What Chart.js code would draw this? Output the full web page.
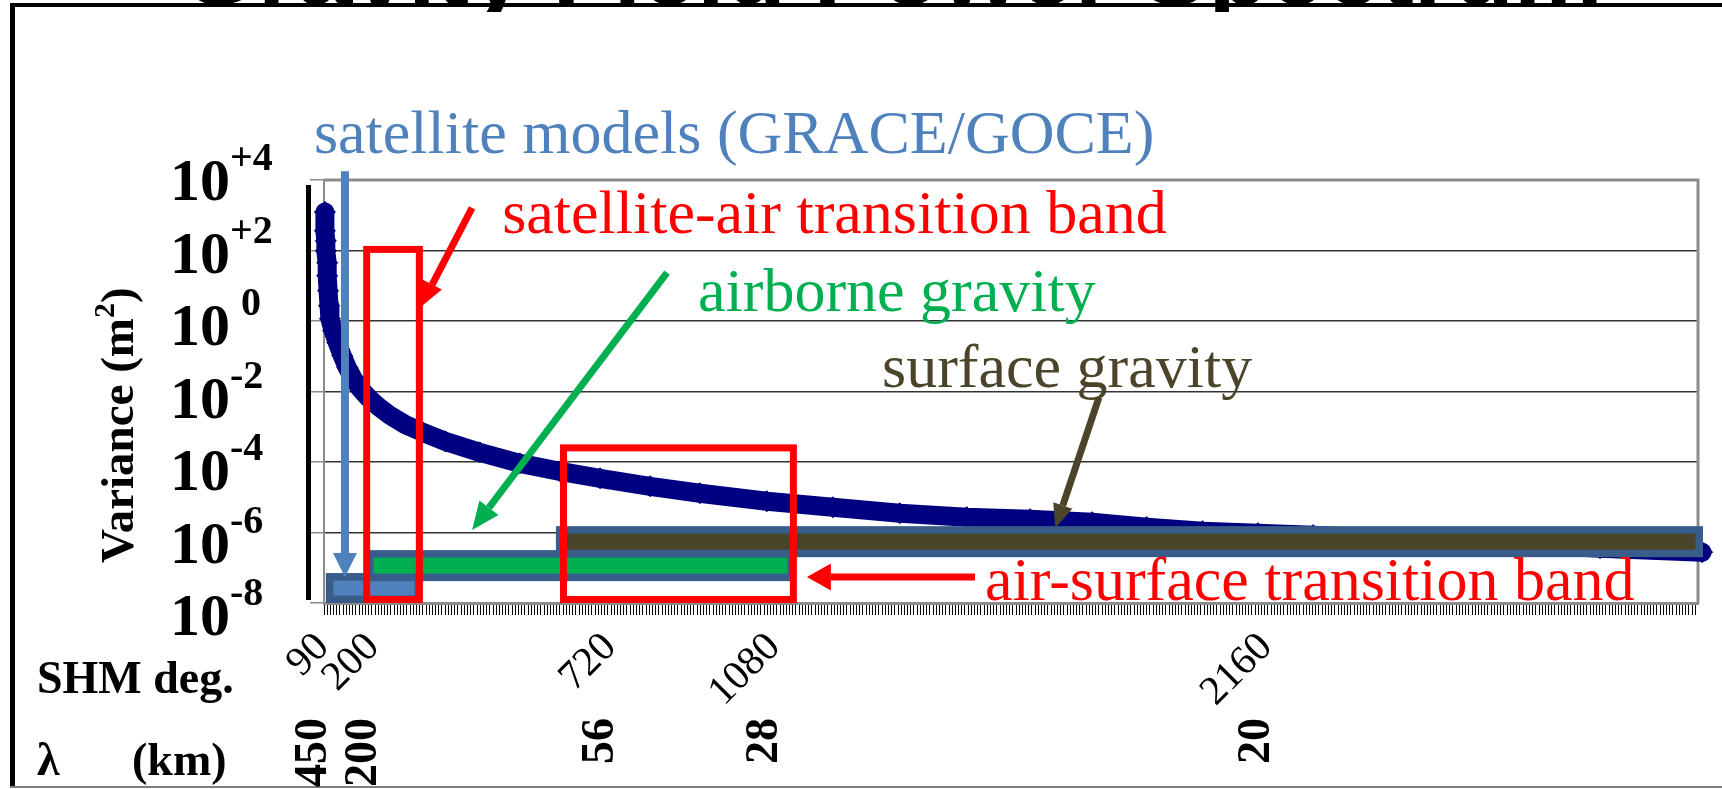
<!DOCTYPE html>
<html>
<head>
<meta charset="utf-8">
<script src="https://cdn.jsdelivr.net/npm/chart.js@4.4.1/dist/chart.umd.min.js"></script>
<style>
  html, body { margin: 0; padding: 0; background: #fff; overflow: hidden; }
  canvas { display: block; }
</style>
</head>
<body>
<canvas id="c" width="1722" height="789"></canvas>
<script>
// Spherical-harmonic degree of each plotted degree-variance point
const shmDegree = [92, 92, 94, 94, 97, 97, 99, 101, 103, 110, 119, 130, 141, 154, 169, 187, 209, 235,
  268, 307, 356, 432, 520, 608, 696, 806, 915, 1062, 1207, 1354, 1501, 1640, 1776, 1896, 2019,
  2140, 2261, 2452, 2671, 2891, 3115];
// Geoid degree variance in m^2
const variance = [1240, 361, 188, 98, 44.8, 19.2, 7.2, 2.7, 1.16, 0.53, 0.244, 0.104, 0.0478, 0.0233,
  0.0122, 6.76e-3, 3.76e-3, 2.09e-3, 1.16e-3, 6.92e-4, 3.85e-4, 1.88e-4, 9.16e-5, 5.44e-5, 3.45e-5,
  2.05e-5, 1.30e-5, 7.7e-6, 5.2e-6, 3.52e-6, 2.72e-6, 2.38e-6, 1.96e-6, 1.42e-6, 1.09e-6, 9.58e-7,
  8.41e-7, 6.48e-7, 4.99e-7, 3.60e-7, 2.77e-7];

// Labelled degrees on the x axis and the matching wavelengths (km)
const degreeLabels = [90, 200, 720, 1080, 2160];
const wavelengthLabels = ['450', '200', '56', '28', '20'];
// Decades labelled on the variance axis (exponents) and how they are written
const decadeExponents = [4, 2, 0, -2, -4, -6, -8];
const decadeText = ['+4', '+2', '0', '-2', '-4', '-6', '-8'];

// Data-source coverage bands: degree span and log10 variance span
const bandDegrees = [[94, 305], [182, 1124], [599, 3117]];
const bandLogVariance = [[-8, -7.15], [-7.38, -6.5], [-6.7, -5.82]];
// Transition windows between data sources
const windowDegrees = [[176, 307], [608, 1128]];
const windowLogVariance = [[-8, 2.13], [-8, -3.5]];

const SERIF = '"Liberation Serif", "Times New Roman", serif';
const NAVY = '#000080';
const STEEL = '#4F81BD';
const OUTLINE = '#385D8A';
const RED = '#FF0000';
const GREEN = '#00B050';
const OLIVE = '#4A452A';

const bandFills = [STEEL, GREEN, OLIVE];

// Annotation callouts, placed in axis units: [degree, log10 variance]
const callouts = [
  { text: 'satellite models (GRACE/GOCE)', color: STEEL, at: [68, 4.76] },
  { text: 'satellite-air transition band', color: RED, at: [481, 2.50] },
  { text: 'airborne gravity', color: GREEN, at: [911, 0.29] },
  { text: 'surface gravity', color: OLIVE, at: [1315, -1.86] },
  { text: 'air-surface transition band', color: RED, at: [1541, -7.92] }
];
const pointers = [
  { color: STEEL, from: [136, 4.25], to: [136, -7.26], w: 8, hl: 24, hw: 24 },
  { color: RED, from: [415, 3.21], to: [301, 0.38], w: 7, hl: 26, hw: 22 },
  { color: GREEN, from: [843, 1.37], to: [415, -5.93], w: 7, hl: 28, hw: 24 },
  { color: RED, from: [1519, -7.26], to: [1150, -7.26], w: 7, hl: 24, hw: 27 },
  { color: OLIVE, from: [1791, -2.17], to: [1695, -5.88], w: 7, hl: 24, hw: 20 }
];

function drawArrow(ctx, x1, y1, x2, y2, color, w, hl, hw) {
  const a = Math.atan2(y2 - y1, x2 - x1);
  const bx = x2 - hl * Math.cos(a), by = y2 - hl * Math.sin(a);
  ctx.save();
  ctx.strokeStyle = color; ctx.fillStyle = color;
  ctx.lineWidth = w; ctx.lineCap = 'butt';
  ctx.beginPath(); ctx.moveTo(x1, y1); ctx.lineTo(bx, by); ctx.stroke();
  ctx.beginPath();
  ctx.moveTo(x2, y2);
  ctx.lineTo(bx + hw / 2 * Math.sin(a), by - hw / 2 * Math.cos(a));
  ctx.lineTo(bx - hw / 2 * Math.sin(a), by + hw / 2 * Math.cos(a));
  ctx.closePath(); ctx.fill();
  ctx.restore();
}

const slidePlugin = {
  id: 'slide',
  beforeDraw(chart) {
    const ctx = chart.ctx;
    ctx.save();
    ctx.fillStyle = '#fff';
    ctx.fillRect(0, 0, chart.width, chart.height);
    ctx.restore();
  },
  beforeDatasetsDraw(chart) {
    const { ctx, chartArea: a } = chart;
    ctx.save();
    // plot frame: top and right edges
    ctx.strokeStyle = '#8C8C8C';
    ctx.lineWidth = 3;
    ctx.beginPath();
    ctx.moveTo(a.left, a.top);
    ctx.lineTo(a.right, a.top);
    ctx.lineTo(a.right, a.bottom);
    ctx.stroke();
    // heavy rule beside the variance axis
    ctx.fillStyle = '#000';
    ctx.fillRect(a.left - 18, a.top + 5, 5, a.bottom - a.top - 8);
    ctx.restore();
  },
  afterDatasetsDraw(chart) {
    const { ctx } = chart;
    const xs = chart.scales.x, ys = chart.scales.y;
    const X = d => xs.getPixelForValue(d);
    const Y = lv => ys.getPixelForValue(Math.pow(10, lv));
    ctx.save();
    // coverage bands
    const lw = 7.5;
    bandDegrees.forEach((deg, i) => {
      const x1 = X(deg[0]), x2 = X(deg[1]);
      const y1 = Y(bandLogVariance[i][1]), y2 = Y(bandLogVariance[i][0]);
      ctx.fillStyle = OUTLINE;
      ctx.fillRect(x1, y1, x2 - x1, y2 - y1);
      ctx.fillStyle = bandFills[i];
      ctx.fillRect(x1 + lw, y1 + lw, x2 - x1 - 2 * lw, y2 - y1 - 2 * lw);
    });
    // transition windows
    ctx.strokeStyle = RED;
    ctx.lineWidth = 7;
    windowDegrees.forEach((deg, i) => {
      const x1 = X(deg[0]), x2 = X(deg[1]);
      const y1 = Y(windowLogVariance[i][1]), y2 = Y(windowLogVariance[i][0]);
      ctx.strokeRect(x1 + 3.5, y1 + 3.5, x2 - x1 - 7, y2 - y1 - 7);
    });
    // pointers
    pointers.forEach(p => {
      drawArrow(ctx, X(p.from[0]), Y(p.from[1]), X(p.to[0]), Y(p.to[1]), p.color, p.w, p.hl, p.hw);
    });
    ctx.restore();
  },
  afterDraw(chart) {
    const { ctx, chartArea: a } = chart;
    const xs = chart.scales.x, ys = chart.scales.y;
    const X = d => xs.getPixelForValue(d);
    const Y = lv => ys.getPixelForValue(Math.pow(10, lv));
    ctx.save();

    // slide title, cut off by the top edge of the page
    ctx.save();
    ctx.beginPath();
    ctx.rect(0, 0, chart.width, 12);
    ctx.clip();
    ctx.fillStyle = '#000';
    ctx.font = 'bold 100px "Liberation Sans", Arial, sans-serif';
    ctx.textAlign = 'left';
    ctx.textBaseline = 'alphabetic';
    ctx.fillText('Gravity Field Power Spectrum', 180, 4);
    ctx.restore();

    // slide frame
    ctx.fillStyle = '#000';
    ctx.fillRect(10, 3, chart.width - 10, 4);
    ctx.fillRect(10, 3, 5, chart.height - 5);
    ctx.fillStyle = '#808080';
    ctx.fillRect(10, chart.height - 3, chart.width - 10, 2);

    // callout texts
    ctx.font = '62px ' + SERIF;
    callouts.forEach(c => {
      ctx.fillStyle = c.color;
      ctx.fillText(c.text, X(c.at[0]), Y(c.at[1]));
    });

    // variance axis labels: 10 with raised exponent
    ctx.fillStyle = '#000';
    decadeExponents.forEach((e, k) => {
      const base = Y(e) + 20 + 2 * k;
      ctx.font = 'bold 60px ' + SERIF;
      ctx.fillText('10', 170, base);
      ctx.font = 'bold 40px ' + SERIF;
      ctx.fillText(decadeText[k], e === 0 ? 241 : 230, base - 30);
    });

    // variance axis title
    ctx.save();
    ctx.translate(133, 563);
    ctx.rotate(-Math.PI / 2);
    ctx.font = 'bold 47px ' + SERIF;
    let tx = 0;
    ctx.fillText('Variance (m', tx, 0);
    tx += ctx.measureText('Variance (m').width;
    ctx.font = 'bold 30px ' + SERIF;
    ctx.fillText('2', tx, -19);
    tx += ctx.measureText('2').width;
    ctx.font = 'bold 47px ' + SERIF;
    ctx.fillText(')', tx, 0);
    ctx.restore();

    // row headings below the axis
    ctx.font = 'bold 46px ' + SERIF;
    ctx.fillText('SHM deg.', 37, 693);
    ctx.fillText('\u03BB', 37, 775);
    ctx.fillText('(km)', 132, 775);

    // degree labels, slanted
    const tickEnd = a.bottom + 12;
    ctx.font = '41px ' + SERIF;
    degreeLabels.forEach(d => {
      ctx.save();
      ctx.translate(X(d) - 1, tickEnd + 26);
      ctx.rotate(-Math.PI / 4);
      ctx.textAlign = 'right';
      ctx.textBaseline = 'middle';
      ctx.fillText(String(d), 0, 0);
      ctx.restore();
    });

    // wavelength labels, vertical
    ctx.font = 'bold 46px ' + SERIF;
    degreeLabels.forEach((d, i) => {
      ctx.save();
      ctx.translate(X(d) + 1.5, tickEnd + 103);
      ctx.rotate(-Math.PI / 2);
      ctx.textAlign = 'right';
      ctx.textBaseline = 'alphabetic';
      ctx.fillText(wavelengthLabels[i], 0, 0);
      ctx.restore();
    });

    ctx.restore();
  }
};

new Chart(document.getElementById('c'), {
  type: 'line',
  data: {
    datasets: [{
      label: 'degree variance',
      data: shmDegree.map((d, i) => ({ x: d, y: variance[i] })),
      borderColor: NAVY,
      borderWidth: 19,
      borderJoinStyle: 'round',
      borderCapStyle: 'round',
      tension: 0,
      pointStyle: 'rectRot',
      pointRadius: 10.5,
      pointBorderWidth: 1,
      pointBackgroundColor: NAVY,
      pointBorderColor: NAVY,
      clip: false
    }]
  },
  options: {
    responsive: false,
    animation: false,
    events: [],
    layout: { padding: { left: 310, top: 180, right: 24, bottom: 174 } },
    plugins: {
      legend: { display: false },
      tooltip: { enabled: false },
      title: { display: false }
    },
    scales: {
      x: {
        type: 'linear',
        min: 90,
        max: 3106,
        afterBuildTicks(scale) {
          const t = [];
          for (let v = 90; v <= 3106; v += 7) t.push({ value: v });
          scale.ticks = t;
        },
        ticks: { display: false },
        grid: { drawOnChartArea: false, drawTicks: true, tickLength: 12, tickColor: '#000', lineWidth: 1 },
        border: { color: '#8C8C8C', width: 3 }
      },
      y: {
        type: 'logarithmic',
        min: 1e-8,
        max: 1e4,
        afterBuildTicks(scale) {
          scale.ticks = decadeExponents.map(e => ({ value: Math.pow(10, e) }));
        },
        ticks: { display: false },
        grid: { color: '#333333', lineWidth: 1.5, tickLength: 14, tickColor: '#8C8C8C' },
        border: { color: '#8C8C8C', width: 2 }
      }
    }
  },
  plugins: [slidePlugin]
});
</script>
</body>
</html>
